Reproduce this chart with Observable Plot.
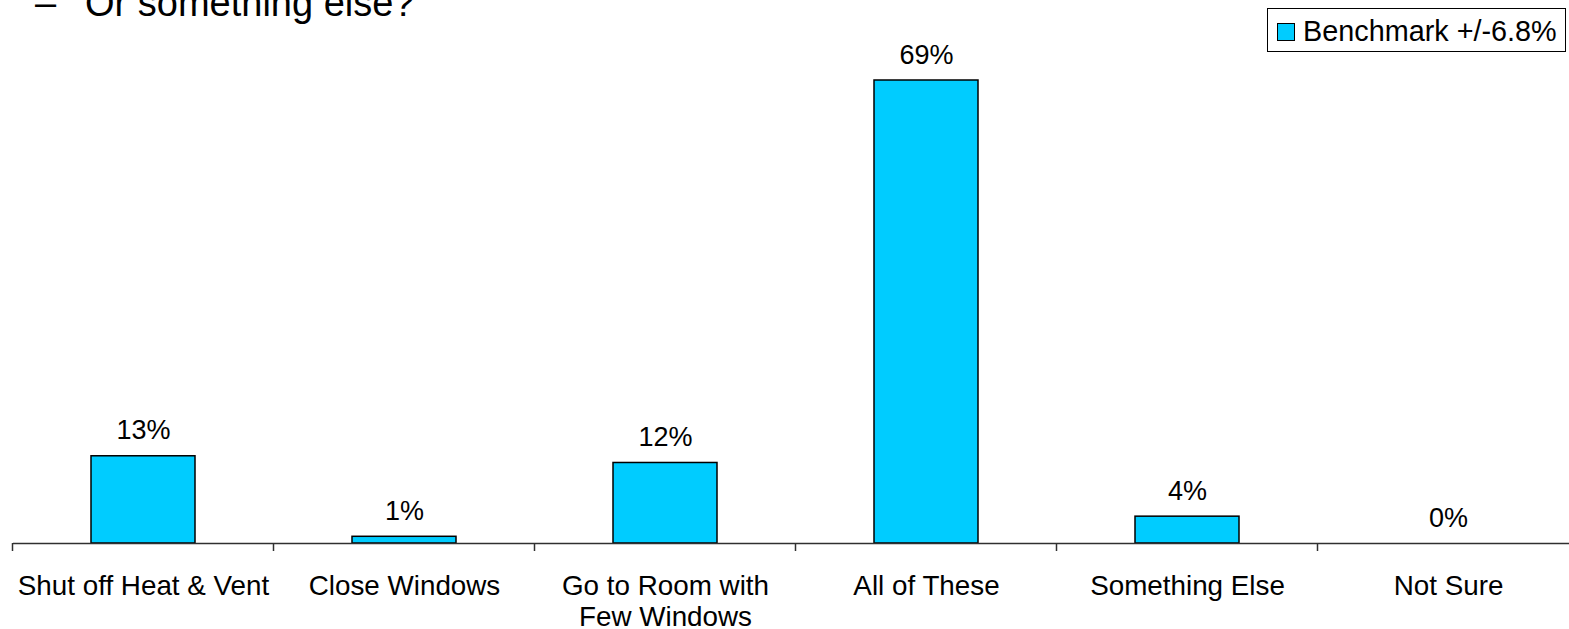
<!DOCTYPE html>
<html><head><meta charset="utf-8">
<script src="https://cdn.jsdelivr.net/npm/d3@7"></script>
<script src="https://cdn.jsdelivr.net/npm/@observablehq/plot@0.6"></script>
<style>
body{margin:0;background:#fff;font-family:"Liberation Sans",Arial,sans-serif;color:#000;}
#wrap{position:relative;width:1569px;height:629px;overflow:hidden;background:#fff;}
#chart{position:absolute;left:0;top:0;}
.title{position:absolute;top:-16px;font-size:38px;line-height:38px;white-space:nowrap;}
#legend{position:absolute;left:1267px;top:8px;width:299px;height:44px;border:1px solid #000;box-sizing:border-box;background:#fff;}
#legend .sw{position:absolute;left:9px;top:14px;width:18px;height:18px;background:#00CCFF;border:1.5px solid #000;box-sizing:border-box;}
#legend .lt{position:absolute;left:35px;top:8px;font-size:28.8px;line-height:28px;white-space:nowrap;}
</style></head>
<body>
<div id="wrap">
  <div id="chart"></div>
  <div class="title" style="left:35px">–</div>
  <div class="title" style="left:85px">Or something else?</div>
  <div id="legend"><div class="sw"></div><div class="lt"></div></div>
</div>
<script>
const categories = ["Shut off Heat & Vent", "Close Windows", "Go to Room with Few Windows", "All of These", "Something Else", "Not Sure"];
const tickLabels = ["Shut off Heat & Vent", "Close Windows", "Go to Room with\nFew Windows", "All of These", "Something Else", "Not Sure"];
const values = [13, 1, 12, 69, 4, 0];
const seriesName = "Benchmark +/-6.8%";
const barColor = "#00CCFF";

const data = categories.map((c, i) => ({cat: c, value: values[i], label: tickLabels[i]}));

document.querySelector("#legend .lt").textContent = seriesName;

const plot = Plot.plot({
  width: 1569, height: 629,
  marginTop: 0, marginRight: 0, marginBottom: 0, marginLeft: 13,
  style: {fontFamily: "'Liberation Sans', Arial, sans-serif", fontSize: "27px", color: "#000", background: "transparent", overflow: "visible"},
  x: {domain: categories, range: [13, 1579], paddingInner: 0.6, paddingOuter: 0.3, axis: null},
  y: {domain: [0, 69], range: [543, 80], axis: null},
  marks: [
    Plot.barY(data, {x: "cat", y: "value", fill: barColor, stroke: "#000", strokeWidth: 1.5}),
    Plot.ruleY([0], {stroke: "#303030", strokeWidth: 1.5}),
    Plot.text(data, {x: "cat", y: "value", text: d => d.value + "%", lineAnchor: "bottom", dy: -17, fontSize: 27, fill: "#000"}),
    Plot.text(data, {x: "cat", y: () => 0, text: "label", lineAnchor: "top", dy: 29, fontSize: 27.8, lineHeight: 1.12, fill: "#000"})
  ]
});

// category boundary ticks below the axis, placed through the plot's own scales
const xs = plot.scale("x"), ys = plot.scale("y");
const gap = (xs.step - xs.bandwidth) / 2;
const y0 = ys.apply(0);
const g = d3.select(plot).append("g").attr("stroke", "#303030").attr("stroke-width", 1.5);
categories.forEach(c => {
  const xx = xs.apply(c) - gap;
  g.append("line").attr("x1", xx).attr("x2", xx).attr("y1", y0).attr("y2", y0 + 8);
});

document.getElementById("chart").appendChild(plot);
</script>
</body></html>
